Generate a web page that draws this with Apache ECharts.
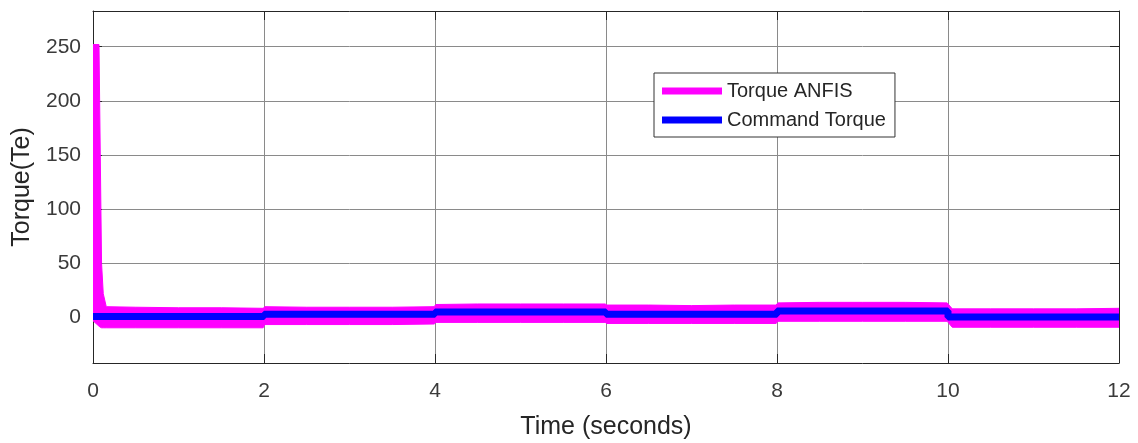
<!DOCTYPE html>
<html>
<head>
<meta charset="utf-8">
<script src="https://cdn.jsdelivr.net/npm/echarts@6/dist/echarts.min.js"></script>
<style>
  html, body { margin: 0; padding: 0; background: #fff; }
  #chart { width: 1138px; height: 443px; }
</style>
</head>
<body>
<div id="chart"></div>
<script>
// Sample times (s) for the ANFIS torque envelope
const bandTime = [0, 0.07, 0.085, 0.1, 0.12, 0.155, 0.5, 1, 1.5, 1.99,
  2.01, 2.5, 3, 3.5, 3.99, 4.01, 4.5, 5, 5.5, 5.99, 6.01, 6.5, 7, 7.5, 7.99,
  8.01, 8.5, 9, 9.5, 9.99, 10.05, 10.5, 11, 11.5, 12];
// Upper edge of the ANFIS torque ripple band
const bandUpper = [252, 252, 150, 50, 22, 10, 9.5, 9, 9, 8.5,
  10, 9.5, 9.5, 9.5, 10, 12, 12.5, 12.5, 12.5, 12.5, 11.5, 11.5, 11, 11.5, 11.5,
  13.5, 14, 14, 14, 13.5, 8, 8, 8, 8, 8.5];
// Lower edge of the ANFIS torque ripple band
const bandLower = [-3, -8, -9, -9.5, -9.5, -9.5, -9.5, -9.5, -9.5, -9.5,
  -6.5, -6.5, -6.5, -6.5, -6, -4.5, -4.5, -4.5, -4.5, -4.5, -5.5, -5.5, -5.5, -5.5, -5.5,
  -3.5, -3.5, -3.5, -3.5, -3.5, -9, -9, -9, -9, -9];

// Command torque: piecewise-constant reference
const cmdTime = [0, 2, 4, 6, 8, 10, 12];
const cmdValue = [1, 3, 5, 3, 6, 0.5, 0.5];

const xTicks = [0, 2, 4, 6, 8, 10, 12];
const yTicks = [0, 50, 100, 150, 200, 250];

const bandData = bandTime.map((t, i) => [t, bandUpper[i], bandLower[i]]);
const cmdData = cmdTime.map((t, i) => [t, cmdValue[i]]);

const axisColor = '#262626';
const gridColor = '#8a8a8a';
const font = 'Liberation Sans, Arial, Helvetica, sans-serif';

const chart = echarts.init(document.getElementById('chart'), null, { renderer: 'canvas' });

const baseX = {
  type: 'value', min: 0, max: 12, interval: 2,
  axisLine: { show: true, onZero: false, lineStyle: { color: axisColor, width: 1 } },
  axisTick: { show: true, inside: true, length: 9, lineStyle: { color: axisColor } }
};
const baseY = {
  type: 'value', min: -42, max: 283,
  axisLine: { show: true, onZero: false, lineStyle: { color: axisColor, width: 1 } },
  axisTick: { show: true, inside: true, length: 9, customValues: yTicks, lineStyle: { color: axisColor } }
};

// Filled ripple envelope: one closed polygon, upper edge forward then lower edge back
function renderBand(params, api) {
  if (params.dataIndex !== 0) return null;
  const upper = bandData.map(d => api.coord([d[0], d[1]]));
  const lower = bandData.map(d => api.coord([d[0], d[2]])).reverse();
  return {
    type: 'polygon',
    shape: { points: upper.concat(lower) },
    style: { fill: '#ff00ff', stroke: '#ff00ff', lineWidth: 1 }
  };
}

chart.setOption({
  animation: false,
  backgroundColor: '#ffffff',
  grid: { left: 93, right: 19, top: 11, bottom: 80, containLabel: false, outerBoundsMode: 'none' },
  legend: {
    orient: 'vertical',
    left: 654, top: 73,
    padding: [8, 9, 7, 8],
    itemGap: 9,
    itemWidth: 60, itemHeight: 7,
    backgroundColor: '#ffffff',
    borderColor: '#333333', borderWidth: 1, borderRadius: 0,
    textStyle: { fontFamily: font, fontSize: 20, color: '#262626', lineHeight: 20 },
    data: [
      { name: 'Torque ANFIS', icon: 'rect', itemStyle: { color: '#ff00ff' } },
      { name: 'Command Torque', icon: 'rect', itemStyle: { color: '#0000ff' } }
    ]
  },
  xAxis: [
    Object.assign({}, baseX, {
      position: 'bottom',
      name: 'Time (seconds)', nameLocation: 'middle', nameGap: 52,
      nameTextStyle: { fontFamily: font, fontSize: 25, color: axisColor },
      axisLabel: { show: true, margin: 18, fontFamily: font, fontSize: 21, color: '#3a3a3a' },
      splitLine: { show: true, lineStyle: { color: gridColor, width: 1 } }
    }),
    Object.assign({}, baseX, {
      position: 'top',
      axisLabel: { show: false },
      splitLine: { show: false }
    })
  ],
  yAxis: [
    Object.assign({}, baseY, {
      position: 'left',
      name: 'Torque(Te)', nameLocation: 'middle', nameGap: 55, nameRotate: 90,
      nameTextStyle: { fontFamily: font, fontSize: 25, color: axisColor },
      axisLabel: { show: true, margin: 12, customValues: yTicks, fontFamily: font, fontSize: 21, color: '#3a3a3a' },
      splitLine: { show: true, lineStyle: { color: gridColor, width: 1 } }
    }),
    Object.assign({}, baseY, {
      position: 'right',
      axisLabel: { show: false },
      splitLine: { show: false }
    })
  ],
  series: [
    {
      name: 'Torque ANFIS', type: 'custom',
      coordinateSystem: 'cartesian2d',
      renderItem: renderBand,
      encode: { x: 0, y: [1, 2] },
      data: bandData,
      itemStyle: { color: '#ff00ff' },
      clip: true, silent: true
    },
    {
      name: 'Command Torque', type: 'line', step: 'end',
      data: cmdData, showSymbol: false,
      lineStyle: { color: '#0000ff', width: 7 },
      itemStyle: { color: '#0000ff' }
    }
  ]
});
</script>
</body>
</html>
